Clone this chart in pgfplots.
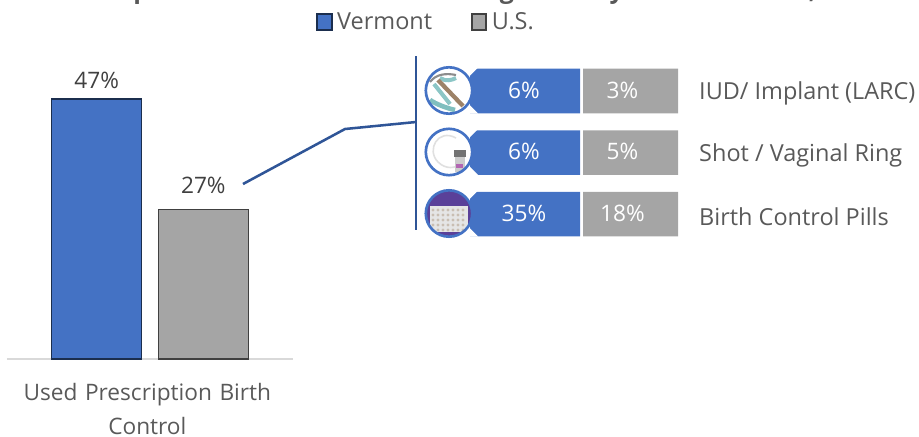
\documentclass[border=0pt]{standalone}
\usepackage{pgfplots}
\usepackage{fontspec}
\setmainfont{Open Sans}
\pgfplotsset{compat=1.18}
\definecolor{vtblue}{HTML}{4472C4}
\definecolor{usgrey}{HTML}{A5A5A5}
\definecolor{txt}{HTML}{595959}
\definecolor{dk}{HTML}{404040}
\definecolor{calloutblue}{HTML}{2F5597}
\newcommand{\fs}{\fontsize{17}{25.5}\selectfont}
\newcommand{\fl}{\fontsize{17.6}{25.5}\selectfont}
\begin{document}
\begin{tikzpicture}
\clip (0,0) rectangle (689.25pt,-327pt);
\begin{scope}[x=0.75pt,y=-0.75pt]
\node[anchor=base,font=\fontsize{18.7}{24}\selectfont\bfseries,text=txt] at (432,-2) {Prescription Birth Control Use Among Sexually Active Women,};
\end{scope}
% main bars
\begin{axis}[
  at={(5.25pt,-269.25pt)},anchor=south west,scale only axis,
  width=214.5pt,height=207pt,
  xmin=7,xmax=293,ymin=0,ymax=49.9,
  axis y line=none,axis x line*=bottom,
  axis line style={draw=black!15,line width=1pt},
  xtick={150},xticklabels={Used Prescription Birth\\Control},
  major tick length=0pt,
  xticklabel style={align=center,text width=215pt,font=\fs,text=txt,yshift=-14.8pt,xshift=-2pt},
  ybar,bar width=67.5pt,
  /pgf/number format/assume math mode=true,
  nodes near coords={\pgfmathprintnumber{\pgfplotspointmeta}\%},
  every node near coord/.append style={font=\fs,text=dk},
  clip=false,
  legend columns=2,
  legend style={at={(1.08,1.221)},anchor=west,draw=none,fill=none,font=\fl,text=txt,
    /tikz/every even column/.style={column sep=25.5pt},inner sep=0pt,
    nodes={inner sep=3.5pt}},
  legend image code/.code={\draw[#1,line width=1.3pt] (0pt,-6pt) rectangle (11pt,6pt);},
]
\addplot[bar shift=-40pt,fill=vtblue,draw=vtblue!40!black,line width=1.1pt,every node near coord/.append style={yshift=3.5pt}] coordinates {(150,47)};
\addplot[bar shift=40pt,fill=usgrey,draw=black!75,line width=1.1pt,every node near coord/.append style={yshift=8pt}] coordinates {(150,27)};
\legend{Vermont,U.S.}
\end{axis}
% rows
\begin{axis}[
  at={(352.5pt,-45.19pt)},anchor=north west,scale only axis,
  width=156pt,height=138.4pt,
  xmin=0,xmax=208,ymin=0.5,ymax=3.5,y dir=reverse,
  axis line style={draw=none},
  xtick=\empty,ytick={1,2,3},
  yticklabels={IUD/ Implant (LARC),Shot / Vaginal Ring,Birth Control Pills},
  yticklabel pos=right,major tick length=0pt,
  yticklabel style={font=\fl,text=txt,anchor=west,inner sep=0pt,xshift=15.7pt,yshift=-2pt},
  xbar stacked,bar width=33.4pt,
  point meta=explicit symbolic,
  nodes near coords,
  every node near coord/.append style={font=\fs,text=white,anchor=center},
  clip=false,
]
\addplot[fill=vtblue,draw=none,every node near coord/.append style={xshift=-0.75pt,yshift=0.5pt}] coordinates {(110,1)[6\%] (110,2)[6\%] (110,3)[35\%]};
\addplot[fill=none,draw=none,nodes near coords={}] coordinates {(3,1) (3,2) (3,3)};
\addplot[fill=usgrey,draw=none,every node near coord/.append style={xshift=-6pt,yshift=0.5pt}] coordinates {(95,1)[3\%] (95,2)[5\%] (95,3)[18\%]};
\end{axis}
\begin{scope}[x=0.75pt,y=-0.75pt]
% callout
\draw[calloutblue,line width=1.9pt,line join=round] (243,184) -- (345,129) -- (416,122);
\draw[calloutblue,line width=1.9pt] (416,56) -- (416,230);
% icons
\foreach \cy in {90.5,152,213.5}{
  \fill[white] (469,\cy-23) -- (478,\cy-23) -- (469,\cy-14) -- cycle;
  \fill[white] (469,\cy+23) -- (478,\cy+23) -- (469,\cy+14) -- cycle;
  \fill[white] (449,\cy) circle (23);
}
\begin{scope}
\clip (449,90.5) circle (23);
\draw[black!45,line width=1.6pt] (430,82) .. controls (436,74) and (446,73) .. (456,75);
\draw[teal!45,line width=3pt] (440,78) .. controls (446,82) and (452,80) .. (456,78);
\draw[brown!60!black!70,line width=3.2pt] (438,80) -- (463,106);
\draw[teal!50,line width=3.5pt] (430,100) .. controls (436,104) and (446,108) .. (455,110);
\draw[teal!45,line width=3pt] (434,84) -- (450,104);
\end{scope}
\begin{scope}
\clip (449,152) circle (23);
\draw[black!12,line width=1.2pt] (456,138) .. controls (438,128) and (426,150) .. (438,162) .. controls (446,170) and (456,168) .. (460,164);
\fill[black!55] (454,150) rectangle (466,157);
\fill[black!20] (455,157) rectangle (465,172);
\fill[violet!60] (456,164) rectangle (463,168);
\end{scope}
\begin{scope}
\clip (449,213.5) circle (23);
\fill[violet!45!blue!60!black!75] (426,190) rectangle (472,237);
\fill[black!10] (430,206) rectangle (468,232);
\foreach \px in {433,438,...,465}{\foreach \py in {210,215,...,230}{
  \fill[orange!30!black!30] (\px,\py) circle (1.6);}}
\end{scope}
\foreach \cy in {90.5,152,213.5}{
  \draw[vtblue,line width=2pt] (449,\cy) circle (23.2);
}
\end{scope}
\end{tikzpicture}
\end{document}
